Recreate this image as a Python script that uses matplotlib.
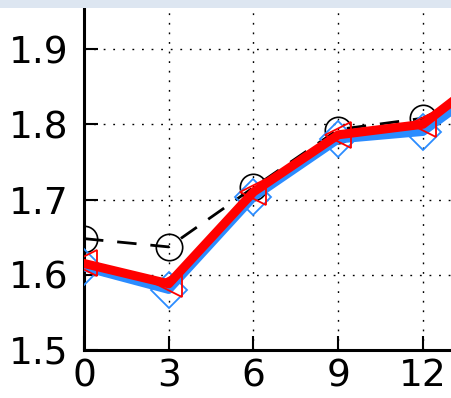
import matplotlib
matplotlib.use("Agg")
import matplotlib.pyplot as plt
from matplotlib.patches import Rectangle

# Months since baseline and the three measured series
months = [0, 3, 6, 9, 12, 15]
reference = [1.648, 1.637, 1.716, 1.793, 1.808, 1.865]
model_a = [1.610, 1.580, 1.703, 1.780, 1.790, 1.872]
model_b = [1.615, 1.588, 1.710, 1.786, 1.800, 1.887]

x_ticks = [0, 3, 6, 9, 12]
y_ticks = [1.5, 1.6, 1.7, 1.8, 1.9]

W, H, DPI = 452, 398, 100
fig = plt.figure(figsize=(W / DPI, H / DPI), dpi=DPI, facecolor="white")

px_per_x = (423 - 84) / 12.0
px_per_y = (350 - 49) / 0.4
x_max, y_max = 15.0, 2.0
ax = fig.add_axes([84 / W, (H - 350) / H,
                   x_max * px_per_x / W, (y_max - 1.5) * px_per_y / H])

ax.plot(months, reference, color="black", lw=2.0, dashes=(7, 5),
        marker="o", ms=19, mfc="none", mec="black", mew=1.2, zorder=3)
ax.plot(months, model_a, color="#2b8cff", lw=6.0,
        marker="D", ms=18, mfc="none", mec="#2b8cff", mew=1.3, zorder=4)
ax.plot(months, model_b, color="#ff0000", lw=6.5,
        marker="<", ms=19, mfc="none", mec="#ff0000", mew=1.3, zorder=5)

ax.set_xlim(0, x_max)
ax.set_ylim(1.5, y_max)
ax.set_xticks(x_ticks)
ax.set_yticks(y_ticks)
ax.set_xticklabels([str(v) for v in x_ticks])
ax.set_yticklabels([f"{v:.1f}" for v in y_ticks])

ax.grid(True, color="black", lw=1.0, linestyle=(0, (1.3, 5.6)))
ax.set_axisbelow(True)

for side in ("top", "right"):
    ax.spines[side].set_visible(False)
for side in ("left", "bottom"):
    ax.spines[side].set_linewidth(2.2)

ax.tick_params(axis="both", direction="in", length=10, width=1.5,
               labelsize=27, top=True, right=True)
ax.tick_params(axis="x", pad=6)
ax.tick_params(axis="y", pad=11)

# Pale header strip along the top edge
fig.patches.append(Rectangle((0, 1 - 8 / H), 1, 8 / H, transform=fig.transFigure,
                             facecolor="#dde6f1", edgecolor="none", zorder=10))

fig.savefig("out.png", dpi=DPI)
